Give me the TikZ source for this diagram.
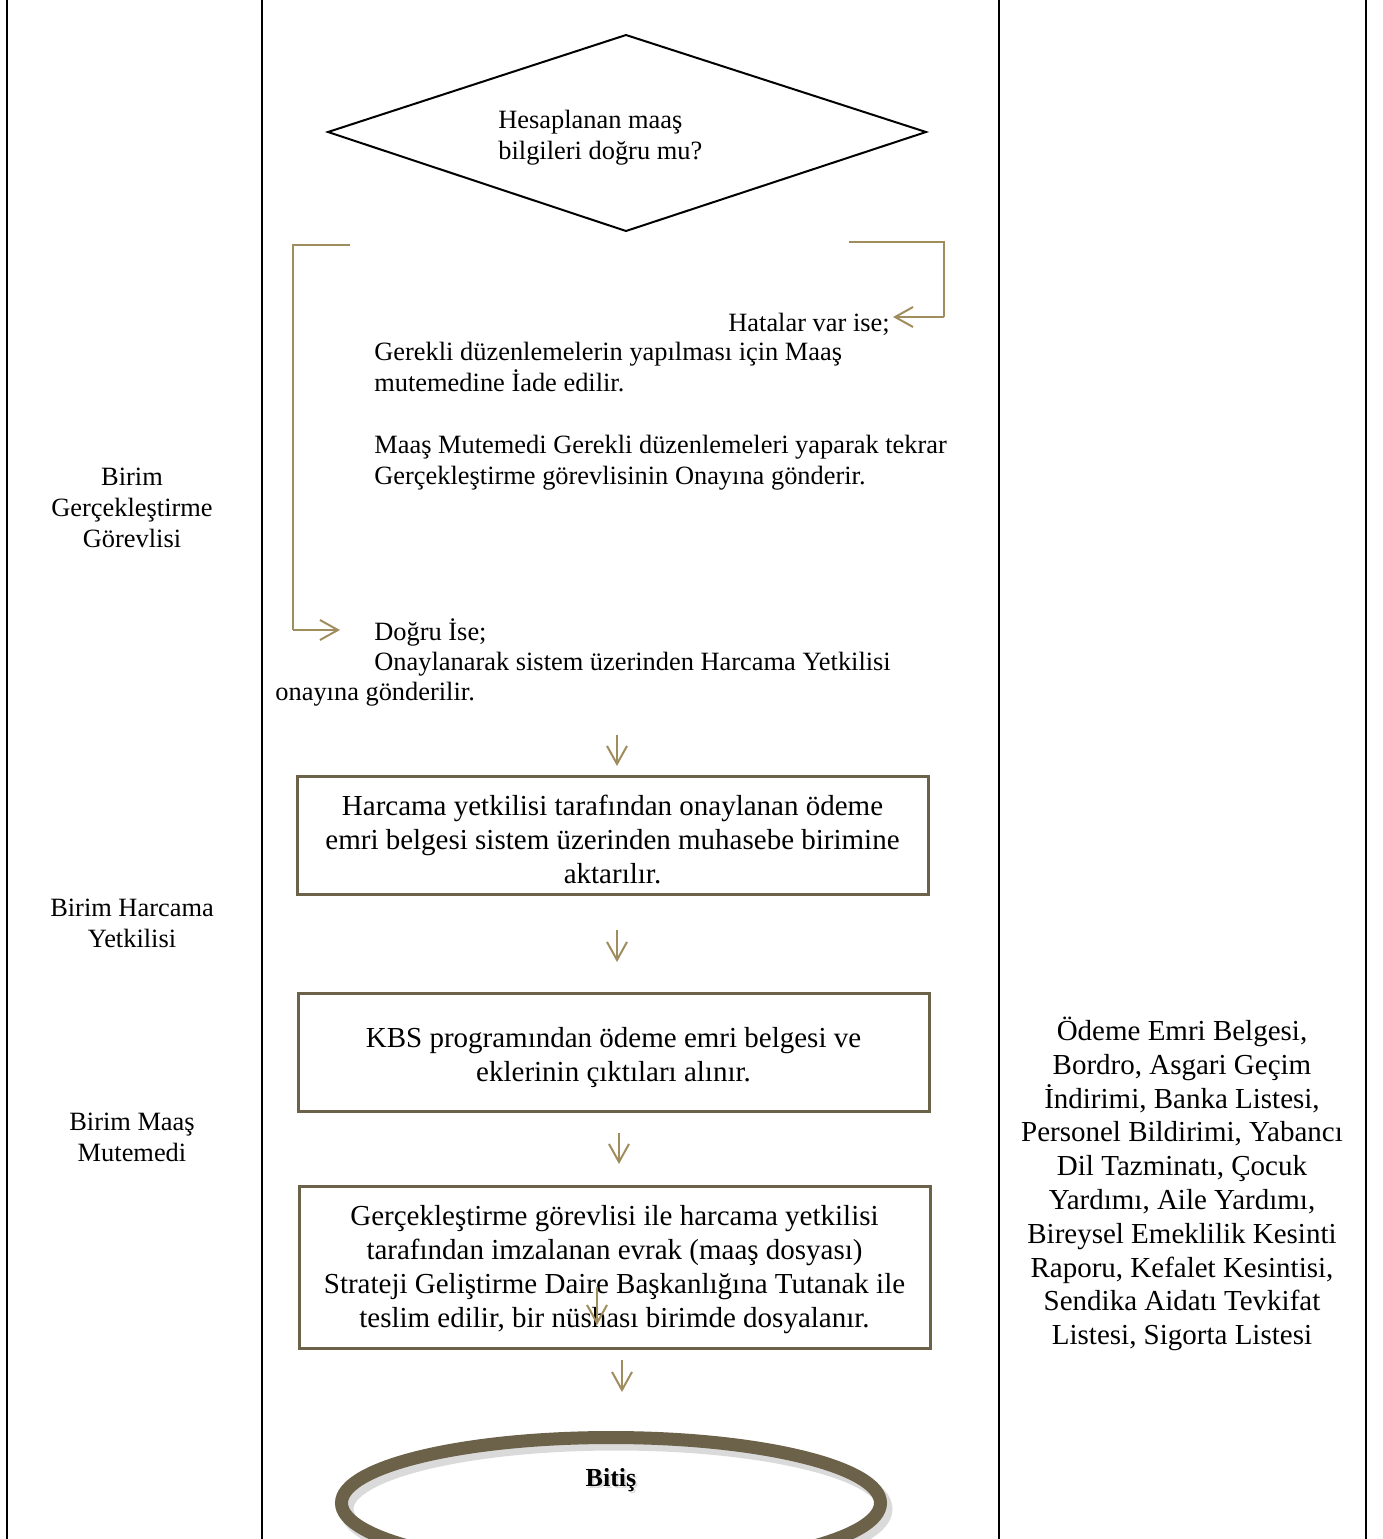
\documentclass[tikz,border=0pt]{standalone}
\usepackage{fontspec}
\setmainfont{Liberation Serif}
\usetikzlibrary{arrows.meta,shapes.geometric}
\definecolor{tanline}{RGB}{160,141,94}
\definecolor{olivebox}{RGB}{108,98,74}
\definecolor{shadowgrey}{RGB}{150,150,150}
\begin{document}
\begin{tikzpicture}[x=0.5pt,y=-0.5pt,
  lane/.style={line width=0.75pt,black},
  decision/.style={line width=1pt,black,line join=miter},
  procbox/.style={draw=olivebox,line width=1.5pt,minimum width=315.5pt,inner sep=0pt},
  boxtext/.style={inner sep=0pt,align=center,font=\fontsize{14.5}{17}\selectfont},
  bodytext/.style={inner sep=0pt,font=\fontsize{13.2}{15.5}\selectfont},
  bigtext/.style={inner sep=0pt,align=center,font=\fontsize{14.5}{16.9}\selectfont},
  flowarrow/.style={draw=tanline,line width=1pt,-{Straight Barb[length=9pt,width=10pt,line width=1pt]}},
  bracket/.style={draw=tanline,line width=1.2pt}]
\useasboundingbox (0,0) rectangle (1383,1539);
\clip (0,0) rectangle (1383,1539);

% lanes
\draw[lane] (7,0) -- (7,1539);
\draw[lane] (262,0) -- (262,1539);
\draw[lane] (999,0) -- (999,1539);
\draw[lane] (1366,0) -- (1366,1539);

% lane labels
\node[bodytext,align=center] (lab1) at (132,508) {Birim\\Gerçekleştirme\\Görevlisi};
\node[bodytext,align=center] (lab2) at (132,923) {Birim Harcama\\Yetkilisi};
\node[bodytext,align=center] (lab3) at (132,1137) {Birim Maaş\\Mutemedi};

% decision
\coordinate (dtop) at (626,35);
\coordinate (dright) at (926,132);
\coordinate (dbot) at (626,231);
\coordinate (dleft) at (328,132);
\draw[decision] (dtop) -- (dright) -- (dbot) -- (dleft) -- cycle;
\node[bodytext,align=left,anchor=west] (q) at (498,137.5) {Hesaplanan maaş\\bilgileri doğru mu?};

% error branch
\coordinate (r1) at (849,242);
\coordinate (r2) at (944,242);
\coordinate (r3) at (944,317);
\coordinate (r4) at (893,317);
\draw[bracket] (r1) -- (r2) -- (r3);
\draw[flowarrow,line width=1.2pt] (r3) -- (r4);
\node[bodytext,anchor=west] (hata) at (728,324) {Hatalar var ise;};
\node[bodytext,align=left,anchor=west] (iade) at (374,416.5) {Gerekli düzenlemelerin yapılması için Maaş\\mutemedine İade edilir.\\[15.5pt]Maaş Mutemedi Gerekli düzenlemeleri yaparak tekrar\\Gerçekleştirme görevlisinin Onayına gönderir.};

% correct branch
\coordinate (l1) at (350,245);
\coordinate (l2) at (293,245);
\coordinate (l3) at (293,630);
\coordinate (l4) at (340,630);
\draw[bracket] (l1) -- (l2) -- (l3);
\draw[flowarrow,line width=1.2pt] (l3) -- (l4);
\node[bodytext,align=left,anchor=west,font=\fontsize{13.2}{15}\selectfont] (dogru) at (275,662) {\hspace*{49.5pt}Doğru İse;\\\hspace*{49.5pt}Onaylanarak sistem üzerinden Harcama Yetkilisi\\onayına gönderilir.};

% process boxes
\node[procbox,minimum height=59pt] (b1) at (612.5,835) {};
\node[boxtext] (t1) at (b1.center) [yshift=-2pt] {Harcama yetkilisi tarafından onaylanan ödeme\\emri belgesi sistem üzerinden muhasebe birimine\\aktarılır.};
\node[procbox,minimum height=59pt] (b2) at (613.5,1052) {};
\node[boxtext] (t2) at (613.5,1058) {KBS programından ödeme emri belgesi ve\\eklerinin çıktıları alınır.};
\node[procbox,minimum height=81pt] (b3) at (614.5,1267) {};
\node[boxtext] (t3) at (614.5,1269.5) {Gerçekleştirme görevlisi ile harcama yetkilisi\\tarafından imzalanan evrak (maaş dosyası)\\Strateji Geliştirme Daire Başkanlığına Tutanak ile\\teslim edilir, bir nüshası birimde dosyalanır.};

% arrows
\coordinate (a1s) at (617,735); \coordinate (a1e) at (617,766);
\coordinate (a2s) at (617,930); \coordinate (a2e) at (617,962);
\coordinate (a3s) at (619,1133); \coordinate (a3e) at (619,1164);
\coordinate (a4s) at (597,1287); \coordinate (a4e) at (597,1325);
\coordinate (a5s) at (622,1360); \coordinate (a5e) at (622,1392);
\draw[flowarrow] (a1s) -- (a1e);
\draw[flowarrow] (a2s) -- (a2e);
\draw[flowarrow] (a3s) -- (a3e);
\draw[flowarrow] (a4s) -- (a4e);
\draw[flowarrow] (a5s) -- (a5e);

% documents
\node[bigtext] (docs) at (1182,1184) {Ödeme Emri Belgesi,\\Bordro, Asgari Geçim\\İndirimi, Banka Listesi,\\Personel Bildirimi, Yabancı\\Dil Tazminatı, Çocuk\\Yardımı, Aile Yardımı,\\Bireysel Emeklilik Kesinti\\Raporu, Kefalet Kesintisi,\\Sendika Aidatı Tevkifat\\Listesi, Sigorta Listesi};

% end
\draw[draw=shadowgrey,opacity=0.35,line width=7pt] (616,1509) ellipse [x radius=269.5,y radius=65.5];
\node[draw=olivebox,line width=6.5pt,ellipse,minimum width=269.5pt,minimum height=65.5pt,inner sep=0pt] (endnode) at (611,1503) {};
\node[inner sep=0pt,font=\fontsize{13}{15}\selectfont\bfseries,text=shadowgrey,opacity=0.3] (endshadow) at (613,1482) {Bitiş};
\node[inner sep=0pt,font=\fontsize{13}{15}\selectfont\bfseries] (endtxt) at (611,1480) {Bitiş};
\end{tikzpicture}
\end{document}
